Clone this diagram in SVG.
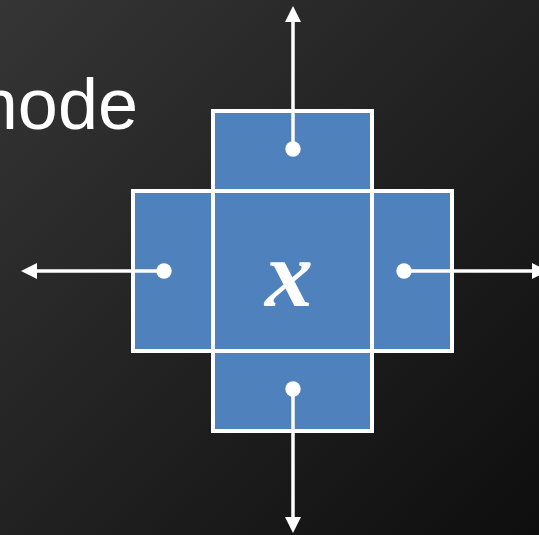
<svg xmlns="http://www.w3.org/2000/svg" width="539" height="535" viewBox="0 0 539 535">
  <defs>
    <linearGradient id="bg" x1="0" y1="0" x2="1" y2="1">
      <stop offset="0" stop-color="#353535"/>
      <stop offset="1" stop-color="#0e0e0e"/>
    </linearGradient>
    <marker id="head" viewBox="0 0 16 16" refX="0" refY="8" markerWidth="16" markerHeight="16" markerUnits="userSpaceOnUse" orient="auto">
      <path d="M0,0 L16,8 L0,16 Z" fill="#ffffff"/>
    </marker>
    <style>
      .cell { fill: #4f81bd; stroke: #ffffff; stroke-width: 4; }
      .edge { stroke: #ffffff; stroke-width: 3.5; fill: none; marker-end: url(#head); }
      .dot { fill: #ffffff; }
      .title { font-family: "Liberation Sans", Arial, sans-serif; font-size: 72px; fill: #ffffff; }
      .var { font-family: "Liberation Serif", "Times New Roman", serif; font-style: italic; font-weight: bold; font-size: 96px; fill: #ffffff; }
    </style>
  </defs>

  <rect width="539" height="535" fill="url(#bg)"/>

  <text class="title" x="138" y="129" text-anchor="end">node</text>

  <g id="cell-top"><rect class="cell" x="213" y="111" width="159" height="80"/></g>
  <g id="cell-bottom"><rect class="cell" x="213" y="351" width="159" height="80"/></g>
  <g id="cell-left"><rect class="cell" x="133" y="191" width="80" height="160"/></g>
  <g id="cell-right"><rect class="cell" x="372" y="191" width="80" height="160"/></g>
  <g id="cell-center">
    <rect class="cell" x="213" y="191" width="159" height="160"/>
    <text class="var" x="289" y="306" text-anchor="middle">x</text>
  </g>

  <g id="connectors">
    <line class="edge" x1="293" y1="149" x2="293" y2="22"/>
    <line class="edge" x1="293" y1="389" x2="293" y2="517"/>
    <line class="edge" x1="164" y1="271" x2="37" y2="271"/>
    <line class="edge" x1="404" y1="271" x2="532" y2="271"/>
    <circle class="dot" cx="293" cy="149" r="7.7"/>
    <circle class="dot" cx="293" cy="389" r="7.7"/>
    <circle class="dot" cx="164" cy="271" r="7.7"/>
    <circle class="dot" cx="404" cy="271" r="7.7"/>
  </g>
</svg>
